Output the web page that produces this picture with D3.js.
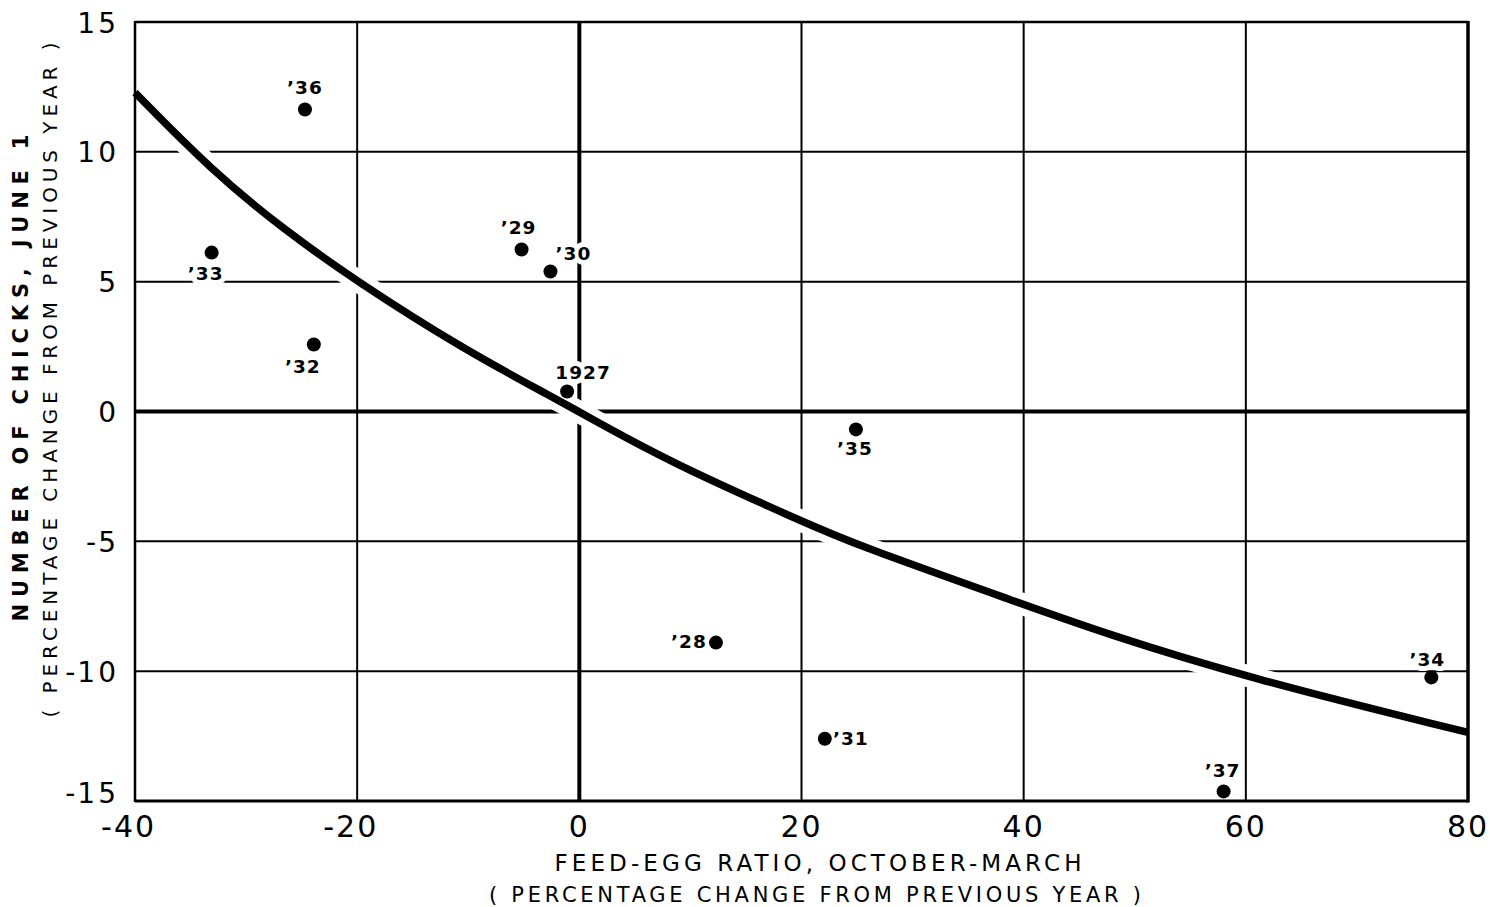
<!DOCTYPE html>
<html>
<head>
<meta charset="utf-8">
<script src="https://cdn.jsdelivr.net/npm/d3@7/dist/d3.min.js"></script>
<style>
  html, body { margin: 0; padding: 0; background: #fff; }
  svg { display: block; }
  text { font-family: "DejaVu Sans", sans-serif; fill: #000; }
</style>
</head>
<body>
<svg id="chart" width="1490" height="907"></svg>
<script>
// ---- data ----
const xTicks = [-40, -20, 0, 20, 40, 60, 80];
const yTicks = [-15, -10, -5, 0, 5, 10, 15];

const years   = ["1927", "’28", "’29", "’30", "’31", "’32", "’33", "’34", "’35", "’36", "’37"];
const feedEgg = [-1.1, 12.3, -5.2, -2.6, 22.1, -23.9, -33.1, 76.7, 24.9, -24.7, 58.0];
const chicks  = [0.77, -8.9, 6.24, 5.39, -12.6, 2.58, 6.12, -10.24, -0.69, 11.63, -14.63];

// fitted curve
const curveX = [-40, -33.2, -26.6, -20, -10.4, -2, 0.7, 8.2, 20.1, 24.7, 40, 47, 60, 80];
const curveY = [12.28, 9.32, 7.0, 5.0, 2.39, 0.46, -0.19, -1.96, -4.24, -5.1, -7.43, -8.5, -10.24, -12.36];

const xTitle1 = "FEED-EGG RATIO, OCTOBER-MARCH";
const xTitle2 = "( PERCENTAGE CHANGE FROM PREVIOUS YEAR )";
const yTitle1 = "NUMBER OF CHICKS, JUNE 1";
const yTitle2 = "( PERCENTAGE CHANGE FROM PREVIOUS YEAR )";

// ---- layout (label placement relative to the dot, px) ----
const labelOffset = {
  "1927": [16, -19], "’28": [-27, -1], "’29": [-3, -22], "’30": [23, -18],
  "’31": [26, 0], "’32": [-11, 22], "’33": [-6, 21], "’34": [-4, -18],
  "’35": [-1, 19], "’36": [0, -22], "’37": [-1, -21]
};

const svg = d3.select("#chart");
const x = d3.scaleLinear().domain([-40, 80]).range([135, 1468]);
const y = d3.scaleLinear().domain([-15, 15]).range([801, 22]);

// grid
const grid = svg.append("g");
grid.selectAll("line.v").data(xTicks).join("line")
  .attr("x1", d => x(d)).attr("x2", d => x(d))
  .attr("y1", y(15)).attr("y2", y(-15))
  .attr("stroke", "#000")
  .attr("stroke-width", d => d === 0 ? 4 : 2);
grid.selectAll("line.h").data(yTicks).join("line")
  .attr("y1", d => y(d)).attr("y2", d => y(d))
  .attr("x1", x(-40)).attr("x2", x(80))
  .attr("stroke", "#000")
  .attr("stroke-width", d => d === 0 ? 4 : 2);

// curve halo
const pts = curveX.map((d, i) => [d, curveY[i]]);
const line = d3.line().x(d => x(d[0])).y(d => y(d[1])).curve(d3.curveBasis);
svg.append("path").datum(pts).attr("d", line)
  .attr("fill", "none").attr("stroke", "#fff").attr("stroke-width", 22);

// point labels with white halo
const pdata = years.map((yr, i) => ({ yr, fx: feedEgg[i], cy: chicks[i] }));
svg.append("g").selectAll("text").data(pdata).join("text")
  .attr("x", d => x(d.fx) + labelOffset[d.yr][0])
  .attr("y", d => y(d.cy) + labelOffset[d.yr][1])
  .attr("text-anchor", "middle")
  .attr("dominant-baseline", "central")
  .attr("font-size", 18.5)
  .attr("font-weight", "bold")
  .attr("letter-spacing", 1)
  .attr("paint-order", "stroke")
  .attr("stroke", "#fff").attr("stroke-width", 10).attr("stroke-linejoin", "round")
  .text(d => d.yr);

// curve
svg.append("path").datum(pts).attr("d", line)
  .attr("fill", "none").attr("stroke", "#000").attr("stroke-width", 7.5)
  .attr("stroke-linecap", "butt");

// points
svg.append("g").selectAll("circle").data(pdata).join("circle")
  .attr("cx", d => x(d.fx)).attr("cy", d => y(d.cy))
  .attr("r", 7).attr("fill", "#000");

// frame
const fr = svg.append("g").attr("stroke", "#000").attr("fill", "none");
fr.append("line").attr("x1", x(-40)).attr("x2", x(-40)).attr("y1", y(15) - 1).attr("y2", y(-15) + 1).attr("stroke-width", 2.5);
fr.append("line").attr("x1", x(80)).attr("x2", x(80)).attr("y1", y(15) - 1).attr("y2", y(-15) + 1.5).attr("stroke-width", 3.5);
fr.append("line").attr("x1", x(-40)).attr("x2", x(80)).attr("y1", y(15)).attr("y2", y(15)).attr("stroke-width", 2.5);
fr.append("line").attr("x1", x(-40)).attr("x2", x(80)).attr("y1", y(-15)).attr("y2", y(-15)).attr("stroke-width", 3);

// x tick labels (digits centred on the tick, dash hanging left)
const xl = svg.append("g");
xTicks.forEach(t => {
  const tx = xl.append("text").attr("x", x(t)).attr("y", 837)
    .attr("text-anchor", "middle").attr("font-size", 30).attr("letter-spacing", 2)
    .text(Math.abs(t));
  if (t < 0) {
    const w = tx.node().getComputedTextLength();
    xl.append("text").attr("x", x(t) - w / 2 - 2).attr("y", 837)
      .attr("text-anchor", "end").attr("font-size", 30).text("-");
  }
});

// y tick labels
const yl = svg.append("g");
yTicks.forEach(t => {
  const ty = y(t) + (t === -15 ? -8 : 1);
  const tn = yl.append("text").attr("x", 119).attr("y", ty)
    .attr("text-anchor", "end").attr("dominant-baseline", "central")
    .attr("font-size", 28).attr("letter-spacing", 3)
    .text(Math.abs(t));
  if (t < 0) {
    const w = tn.node().getComputedTextLength();
    yl.append("text").attr("x", 119 - w - 2).attr("y", ty)
      .attr("text-anchor", "end").attr("dominant-baseline", "central")
      .attr("font-size", 28).text("-");
  }
});

// axis titles
svg.append("text").attr("x", 818).attr("y", 871).attr("text-anchor", "middle")
  .attr("font-size", 23).attr("textLength", 527).attr("lengthAdjust", "spacing")
  .text(xTitle1);
svg.append("text").attr("x", 815).attr("y", 902).attr("text-anchor", "middle")
  .attr("font-size", 21).attr("textLength", 652).attr("lengthAdjust", "spacing")
  .text(xTitle2);
svg.append("text").attr("transform", "translate(28,378) rotate(-90)")
  .attr("text-anchor", "middle").attr("font-size", 21).attr("font-weight", "bold")
  .attr("textLength", 487).attr("lengthAdjust", "spacing")
  .text(yTitle1);
svg.append("text").attr("transform", "translate(57,380) rotate(-90)")
  .attr("text-anchor", "middle").attr("font-size", 20)
  .attr("textLength", 675).attr("lengthAdjust", "spacing")
  .text(yTitle2);
</script>
</body>
</html>
